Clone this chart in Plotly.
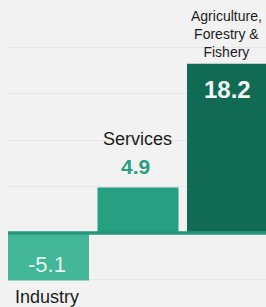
import plotly.graph_objects as go

categories = ["Industry", "Services", "Agriculture,<br>Forestry &<br>Fishery"]
values = [-5.1, 4.9, 18.2]
value_labels = ["-5.1", "4.9", "18.2"]
bar_colors = ["#43b797", "#27a082", "#106a54"]
grid_vals = [-5, 5, 10, 15, 20]

W, H = 266, 307
BAR_W = 0.905
FONT = "Liberation Sans, Arial, Helvetica, sans-serif"

x_idx = list(range(len(categories)))

fig = go.Figure()
fig.add_trace(go.Bar(
    x=x_idx, y=values, width=BAR_W,
    marker=dict(color=bar_colors, line=dict(width=0)),
    hoverinfo="skip",
))

# zero line
fig.add_shape(type="line", xref="paper", yref="y", x0=0, x1=1, y0=0, y1=0,
              line=dict(color="#25977a", width=3.5), layer="above")

ann = []
ann.append(dict(x=0, y=values[0], text=value_labels[0], showarrow=False,
                yanchor="middle", yshift=16, xshift=-2,
                font=dict(family=FONT, size=22, color="rgba(255,255,255,0.88)")))
ann.append(dict(x=0, y=values[0], text=categories[0], showarrow=False,
                yanchor="middle", yshift=-17, xshift=-2,
                font=dict(family=FONT, size=18, color="#1c1c1c")))
ann.append(dict(x=1, y=values[1], text="<b>" + value_labels[1] + "</b>", showarrow=False,
                yanchor="middle", yshift=21, xshift=-3,
                font=dict(family=FONT, size=21, color="#2c9e81")))
ann.append(dict(x=1, y=values[1], text=categories[1], showarrow=False,
                yanchor="middle", yshift=48, xshift=-1,
                font=dict(family=FONT, size=18, color="#1c1c1c")))
ann.append(dict(x=2, y=values[2], text="<b>" + value_labels[2] + "</b>", showarrow=False,
                yanchor="middle", yshift=-26, xshift=0,
                font=dict(family=FONT, size=24, color="#f2f7f5")))
ann.append(dict(x=2, y=values[2], text=categories[2], showarrow=False,
                yanchor="middle", yshift=30, xshift=-1,
                font=dict(family=FONT, size=14, color="#1c1c1c")))

px_per_unit = 9.3
zero_px = 233
plot_left = 8
x_scale = 89.5
x0 = -BAR_W / 2
x1 = x0 + (W - plot_left) / x_scale

fig.update_layout(
    width=W, height=H,
    margin=dict(l=plot_left, r=0, t=0, b=0),
    paper_bgcolor="#f2f2f2", plot_bgcolor="#f2f2f2",
    showlegend=False,
    annotations=ann,
    xaxis=dict(range=[x0, x1], showgrid=False, showticklabels=False,
               zeroline=False, showline=False, fixedrange=True),
    yaxis=dict(range=[-(H - zero_px) / px_per_unit, zero_px / px_per_unit],
               tickvals=grid_vals, showticklabels=False,
               showgrid=True, gridcolor="#e6e6e6", gridwidth=1,
               zeroline=False, showline=False, fixedrange=True),
)

fig.write_html("out.html", config={"displayModeBar": False},
               post_script="document.body.style.margin='0';document.body.style.overflow='hidden';")
